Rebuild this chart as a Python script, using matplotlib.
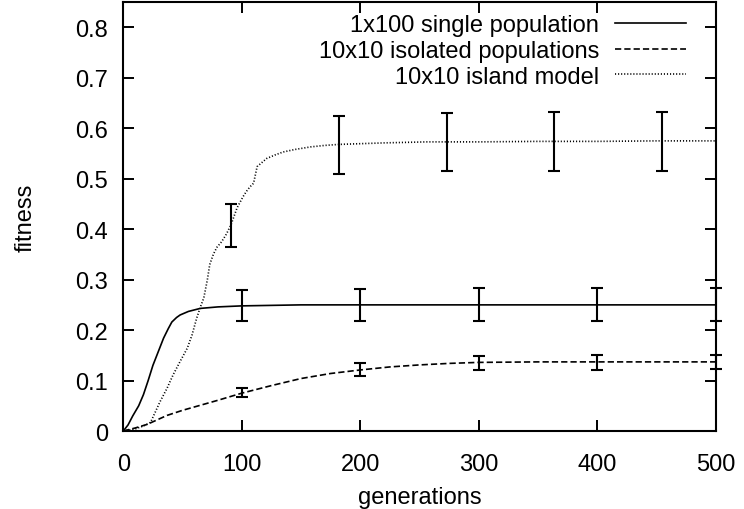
import matplotlib
matplotlib.use("Agg")
import matplotlib.pyplot as plt

# curves
gen_single = [0, 4, 8, 13, 17, 21, 25, 30, 34, 38, 41, 45, 48, 55, 65, 80, 100, 150, 200, 300, 400, 500]
fit_single = [0, 0.012, 0.03, 0.05, 0.072, 0.10, 0.13, 0.16, 0.184, 0.203, 0.216, 0.225, 0.23, 0.237, 0.243, 0.246, 0.248, 0.25, 0.25, 0.25, 0.25, 0.25]

gen_isolated = [0, 10, 20, 37, 50, 65, 80, 100, 125, 150, 175, 200, 225, 250, 275, 300, 350, 400, 450, 500]
fit_isolated = [0, 0.006, 0.013, 0.031, 0.041, 0.051, 0.061, 0.075, 0.09, 0.104, 0.114, 0.121, 0.127, 0.131, 0.134, 0.136, 0.137, 0.137, 0.137, 0.137]

gen_island = [0, 10, 17, 23, 31, 37, 42, 48, 54, 58, 62, 65, 68, 71, 73, 76, 79, 83, 87, 91, 96, 101, 104, 107, 110, 113, 117, 121, 128, 135, 145, 158, 170, 182, 220, 256, 300, 350, 400, 450, 500]
fit_island = [0, 0.004, 0.01, 0.017, 0.058, 0.085, 0.111, 0.138, 0.164, 0.19, 0.224, 0.245, 0.264, 0.3, 0.33, 0.35, 0.364, 0.375, 0.39, 0.409, 0.442, 0.464, 0.475, 0.484, 0.491, 0.524, 0.532, 0.54, 0.547, 0.553, 0.558, 0.563, 0.566, 0.568, 0.571, 0.573, 0.573, 0.574, 0.574, 0.575, 0.575]

# error bars
eb_single_x = [100, 200, 300, 400, 500]
eb_single_lo = [0.218, 0.218, 0.218, 0.218, 0.218]
eb_single_hi = [0.280, 0.282, 0.283, 0.283, 0.284]

eb_isolated_x = [100, 200, 300, 400, 500]
eb_isolated_lo = [0.068, 0.1095, 0.121, 0.121, 0.123]
eb_isolated_hi = [0.085, 0.134, 0.149, 0.151, 0.150]

eb_island_x = [91, 182, 273, 364, 455]
eb_island_lo = [0.365, 0.509, 0.515, 0.515, 0.516]
eb_island_hi = [0.450, 0.624, 0.630, 0.632, 0.632]

labels = ["1x100 single population", "10x10 isolated populations", "10x10 island model"]

plt.rcParams["font.family"] = ["Liberation Sans", "DejaVu Sans"]
plt.rcParams["font.size"] = 17
plt.rcParams["lines.scale_dashes"] = False

fig = plt.figure(figsize=(7.44, 5.10), dpi=100)
ax = fig.add_axes([0.1657, 0.1529, 0.7960, 0.841])

styles = ["-", (0, (4.5, 2.2)), (0, (0.8, 1.4))]
curves = [(gen_single, fit_single), (gen_isolated, fit_isolated), (gen_island, fit_island)]
for (gx, gy), ls, lab in zip(curves, styles, labels):
    ax.plot(gx, gy, color="black", lw=1.2, linestyle=ls, label=lab)

for xs, lo, hi in [(eb_single_x, eb_single_lo, eb_single_hi),
                   (eb_isolated_x, eb_isolated_lo, eb_isolated_hi),
                   (eb_island_x, eb_island_lo, eb_island_hi)]:
    ax.vlines(xs, lo, hi, color="black", lw=1.5, clip_on=False)
    ax.plot(xs, lo, ls="none", marker="_", ms=8, mew=1.5, color="black", clip_on=False)
    ax.plot(xs, hi, ls="none", marker="_", ms=8, mew=1.5, color="black", clip_on=False)

ax.set_xlim(0, 500)
ax.set_ylim(0, 0.85)
ax.set_xticks([0, 100, 200, 300, 400, 500])
ax.set_yticks([0, 0.1, 0.2, 0.3, 0.4, 0.5, 0.6, 0.7, 0.8])
ax.set_yticklabels(["0", "0.1", "0.2", "0.3", "0.4", "0.5", "0.6", "0.7", "0.8"])
ax.tick_params(direction="in", length=8, width=1.4, top=True, right=True)
ax.tick_params(axis="x", pad=16)
ax.tick_params(axis="y", pad=11)
for s in ax.spines.values():
    s.set_linewidth(1.5)

ax.set_xlabel("generations")
ax.set_ylabel("fitness")
ax.xaxis.set_label_coords(0.5, -0.128)
ax.yaxis.set_label_coords(-0.146, 0.5)

ax.legend(loc="upper right", frameon=False, markerfirst=False, handlelength=3.0,
          handletextpad=0.68, labelspacing=0.16, borderaxespad=0, borderpad=0,
          bbox_to_anchor=(0.950, 0.972))

fig.savefig("out.png", dpi=100)
